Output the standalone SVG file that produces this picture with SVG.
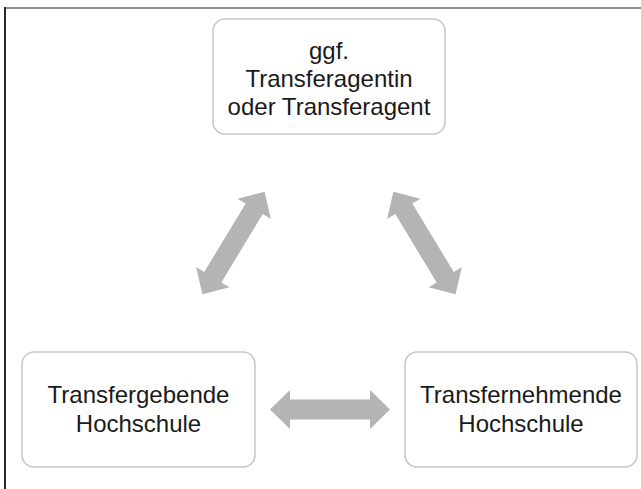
<svg xmlns="http://www.w3.org/2000/svg" width="641" height="489" viewBox="0 0 641 489">
  <style>
    .box { fill: #ffffff; stroke: #c6c6c6; stroke-width: 1.5; }
    .lbl { font-family: "Liberation Sans", Arial, sans-serif; font-size: 24px; fill: #1a1a1a; text-anchor: middle; }
    .arrow { fill: #b4b4b4; }
  </style>
  <defs>
    <path id="dblArrow" d="M -60 0 L -40 -19.5 L -40 -10 L 40 -10 L 40 -19.5 L 60 0 L 40 19.5 L 40 10 L -40 10 L -40 19.5 Z"/>
  </defs>
  <rect x="0" y="0" width="641" height="489" fill="#ffffff"/>
  <g id="frame">
    <line x1="5" y1="8" x2="641" y2="8" stroke="#8c8c8c" stroke-width="2"/>
    <line x1="5" y1="7" x2="5" y2="489" stroke="#2a2a2a" stroke-width="2"/>
  </g>
  <g id="connectors">
    <use href="#dblArrow" class="arrow" transform="translate(233.5,243) rotate(-58.8)"/>
    <use href="#dblArrow" class="arrow" transform="translate(424.5,243) rotate(58.8)"/>
    <use href="#dblArrow" class="arrow" transform="translate(330,409.5)"/>
  </g>
  <g id="node-agent">
    <rect class="box" x="213" y="19" width="232" height="115" rx="12"/>
    <text class="lbl" x="329" y="59">ggf.</text>
    <text class="lbl" x="329" y="87">Transferagentin</text>
    <text class="lbl" x="329" y="115">oder Transferagent</text>
  </g>
  <g id="node-gebende">
    <rect class="box" x="22" y="352" width="233" height="115" rx="12"/>
    <text class="lbl" x="138.5" y="403">Transfergebende</text>
    <text class="lbl" x="138.5" y="432">Hochschule</text>
  </g>
  <g id="node-nehmende">
    <rect class="box" x="405" y="352" width="232" height="115" rx="12"/>
    <text class="lbl" x="521" y="403">Transfernehmende</text>
    <text class="lbl" x="521" y="432">Hochschule</text>
  </g>
</svg>
